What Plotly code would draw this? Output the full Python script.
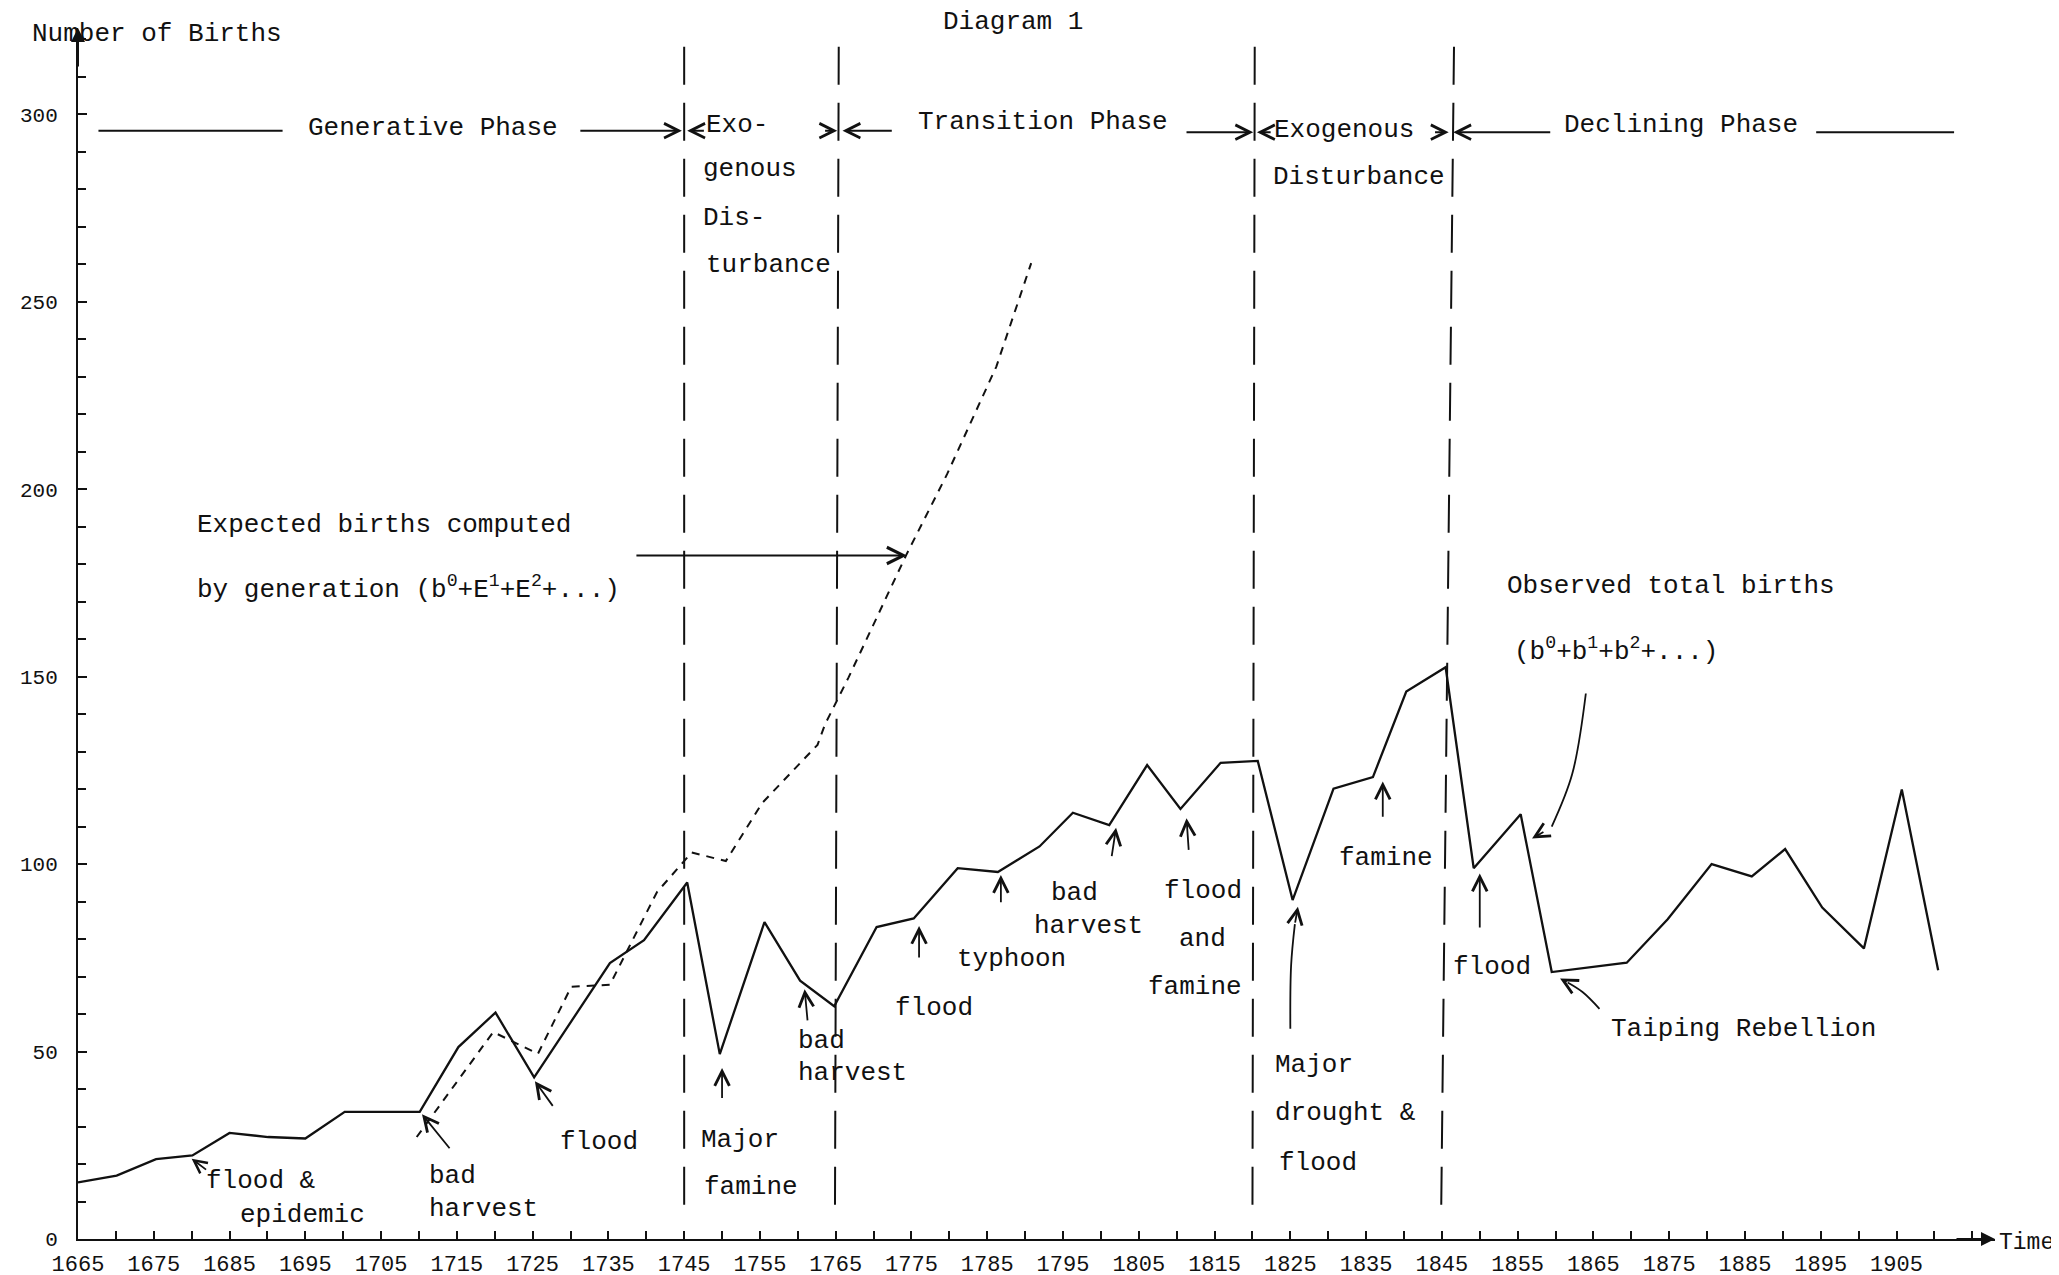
import plotly.graph_objects as go

# ---------------- data ----------------
obs_years = [1665, 1670.1, 1675.3, 1680.1, 1685.0, 1690.1, 1695.0, 1700.2, 1710.1, 1715.2,
             1720.1, 1725.2, 1735.2, 1739.7, 1745.4, 1749.7, 1755.6, 1760.3, 1764.8, 1770.4,
             1775.3, 1781.1, 1786.4, 1791.9, 1796.3, 1801.1, 1806.1, 1810.5, 1815.8, 1820.7,
             1825.3, 1830.7, 1835.9, 1840.3, 1845.5, 1849.2, 1855.4, 1859.5, 1869.4, 1874.8,
             1880.6, 1885.9, 1890.3, 1895.2, 1900.7, 1905.7, 1910.5]
obs_births = [15.1, 16.9, 21.3, 22.3, 28.3, 27.2, 26.8, 33.9, 33.9, 51.2,
              60.4, 43.1, 73.6, 79.7, 95.1, 49.3, 84.5, 68.9, 62.1, 83.2,
              85.5, 98.9, 97.9, 104.7, 113.7, 110.4, 126.4, 114.7, 127.0, 127.5,
              90.4, 120.1, 123.2, 146.0, 152.5, 98.9, 113.3, 71.2, 73.7, 85.3,
              100.0, 96.7, 104.0, 88.4, 77.5, 119.9, 71.7]

exp_years = [1709.7, 1719.8, 1725.7, 1730.1, 1735.2, 1741.4, 1746.0, 1750.5, 1755.3,
             1762.6, 1763.6, 1766.7, 1774.3, 1779.7, 1786.2, 1790.8]
exp_births = [27.2, 55.2, 49.4, 67.3, 67.8, 92.5, 103.1, 100.8, 116.3,
              131.8, 137.3, 149.8, 182.4, 204.0, 232.7, 260.3]

# phase boundaries (slightly slanted in the scan): year at top and at bottom
boundary_top_years = [1745.0, 1765.4, 1820.3, 1846.6]
boundary_bottom_years = [1745.0, 1764.9, 1820.0, 1844.9]
boundary_span = [318, 6]

x_tick_years = list(range(1665, 1906, 10))
x_tick_labels = [str(v) for v in x_tick_years]
y_tick_values = list(range(0, 301, 50))
y_tick_labels = [str(v) for v in y_tick_values]

FONT = "Liberation Mono"
INK = "#111111"
TS = 26

fig = go.Figure()

# phase boundary dashed lines
for xt, xb in zip(boundary_top_years, boundary_bottom_years):
    fig.add_trace(go.Scatter(x=[xt, xb], y=boundary_span, mode="lines",
                             line=dict(color=INK, width=2, dash="38px,18px"),
                             hoverinfo="skip", showlegend=False))

# expected births (dashed)
fig.add_trace(go.Scatter(x=exp_years, y=exp_births, mode="lines",
                         line=dict(color=INK, width=2, dash="8px,7px"),
                         name="Expected births", showlegend=False))
# observed births (solid)
fig.add_trace(go.Scatter(x=obs_years, y=obs_births, mode="lines",
                         line=dict(color=INK, width=2.3),
                         name="Observed total births", showlegend=False))

annotations = []


def text(t, x, y, anchor="left", size=TS):
    annotations.append(dict(text=t, x=x, y=y, xref="x", yref="y", showarrow=False,
                            xanchor=anchor, yanchor="middle",
                            font=dict(family=FONT, size=size, color=INK)))


def arrow(x0, y0, x1, y1, head=5, size=1.6, width=1.8):
    annotations.append(dict(text="", x=x1, y=y1, ax=x0, ay=y0, xref="x", yref="y",
                            axref="x", ayref="y", showarrow=True, arrowhead=head,
                            arrowsize=size, arrowwidth=width, arrowcolor=INK,
                            standoff=0, startstandoff=0))


def curve(xs, ys):
    fig.add_trace(go.Scatter(x=xs, y=ys, mode="lines", line=dict(color=INK, width=1.8, shape="spline"),
                             hoverinfo="skip", showlegend=False))


# ---- phase header row ----
fig.add_shape(type="line", x0=1667.7, x1=1692.0, y0=295.6, y1=295.6, xref="x", yref="y",
              line=dict(color=INK, width=1.8))
text("Generative Phase", 1711.8, 296.3, anchor="center")
arrow(1731.1, 295.6, 1744.7, 295.6)
arrow(1747.8, 295.6, 1745.4, 295.6)
text("Exo-", 1747.6, 297.2)
text("genous", 1747.2, 285.4)
text("Dis-", 1747.2, 272.4)
text("turbance", 1747.6, 259.8)
arrow(1763.4, 295.6, 1765.2, 295.6)
arrow(1772.6, 295.6, 1765.9, 295.6)
text("Transition Phase", 1792.3, 298.0, anchor="center")
arrow(1811.1, 295.2, 1820.1, 295.2)
arrow(1822.6, 295.2, 1820.6, 295.2)
text("Exogenous", 1822.6, 295.9)
text("Disturbance", 1822.4, 283.3)
arrow(1843.9, 295.2, 1845.9, 295.2)
arrow(1859.5, 295.2, 1846.5, 295.2)
text("Declining Phase", 1876.6, 297.0, anchor="center")
fig.add_shape(type="line", x0=1894.4, x1=1912.6, y0=295.2, y1=295.2, xref="x", yref="y",
              line=dict(color=INK, width=1.8))

# ---- series labels ----
text("Expected births computed", 1680.4, 190.4)
text("by generation (b<sup>0</sup>+E<sup>1</sup>+E<sup>2</sup>+...)", 1680.4, 173.6)
arrow(1738.5, 182.3, 1774.4, 182.3, size=1.8)
text("Observed total births", 1853.3, 174.3)
text("(b<sup>0</sup>+b<sup>1</sup>+b<sup>2</sup>+...)", 1854.2, 157.1)
curve([1864.0, 1862.2, 1859.5], [145.5, 124.0, 110.0])
arrow(1858.6, 108.8, 1856.9, 106.8)

# ---- events ----
text("flood &", 1681.6, 15.4)
text("epidemic", 1686.1, 6.3)
arrow(1682.1, 18.2, 1680.0, 21.4, size=1.4)

text("bad", 1711.1, 16.8)
text("harvest", 1711.1, 8.1)
arrow(1714.2, 23.8, 1710.4, 33.3)

text("flood", 1728.3, 25.9)
arrow(1727.8, 35.1, 1725.3, 42.1)

text("Major", 1747.0, 26.3)
text("famine", 1747.4, 14.0)
arrow(1750.0, 37.2, 1750.0, 45.6)

text("bad", 1759.7, 52.9)
text("harvest", 1759.7, 44.2)
arrow(1761.3, 57.9, 1760.9, 66.6)

text("flood", 1772.6, 61.7)
arrow(1776.0, 74.7, 1776.0, 83.5)

text("typhoon", 1780.7, 74.7)
arrow(1786.8, 89.4, 1786.8, 97.1)

text("bad", 1793.2, 92.2)
text("harvest", 1790.9, 83.5)
arrow(1801.4, 101.7, 1802.0, 109.7)

text("flood", 1808.0, 92.9)
text("and", 1810.0, 79.9)
text("famine", 1805.9, 67.3)
arrow(1811.6, 103.4, 1811.3, 112.2)

text("Major", 1822.7, 46.3)
text("drought &", 1822.7, 33.7)
text("flood", 1823.2, 20.3)
curve([1825.0, 1825.1, 1825.6], [56.1, 72.9, 84.0])
arrow(1825.6, 84.0, 1826.0, 88.6)

text("famine", 1831.1, 101.7)
arrow(1837.2, 112.2, 1837.2, 122.0)

text("flood", 1846.2, 72.6)
arrow(1850.0, 82.7, 1850.0, 97.5)

text("Taiping Rebellion", 1867.0, 56.1)
curve([1865.8, 1863.6, 1861.6], [61.4, 65.8, 68.4])
arrow(1861.6, 68.4, 1860.6, 69.5)

# ---- frame labels & axis arrows ----
annotations.append(dict(text="Number of Births", x=-0.025, y=0.995, xref="paper", yref="paper",
                        showarrow=False, xanchor="left", yanchor="middle",
                        font=dict(family=FONT, size=TS, color=INK)))
annotations.append(dict(text="Diagram 1", x=0.488, y=1.005, xref="paper", yref="paper",
                        showarrow=False, xanchor="center", yanchor="middle",
                        font=dict(family=FONT, size=TS, color=INK)))
annotations.append(dict(text="Time", x=1.0, y=-0.003, xref="paper", yref="paper",
                        showarrow=False, xanchor="left", yanchor="middle", xshift=2,
                        font=dict(family=FONT, size=23, color=INK)))
annotations.append(dict(text="", x=1, y=0, xref="paper", yref="paper", ax=-40, ay=0,
                        showarrow=True, arrowhead=2, arrowsize=1.4, arrowwidth=2,
                        arrowcolor=INK, standoff=0))
annotations.append(dict(text="", x=0, y=1, xref="paper", yref="paper", ax=0, ay=40,
                        showarrow=True, arrowhead=2, arrowsize=1.4, arrowwidth=2,
                        arrowcolor=INK, standoff=0))

fig.update_layout(
    width=2059, height=1275,
    margin=dict(l=70, r=72, t=20, b=44, autoexpand=False),
    paper_bgcolor="white", plot_bgcolor="white",
    showlegend=False,
    annotations=annotations,
    font=dict(family=FONT, color=INK),
)
fig.update_xaxes(
    range=[1665, 1918], showgrid=False, zeroline=False, automargin=False,
    showline=True, linecolor=INK, linewidth=2,
    tickmode="array", tickvals=x_tick_years, ticktext=x_tick_labels,
    ticks="inside", ticklen=8, tickwidth=1.5, tickcolor=INK,
    minor=dict(tick0=1665, dtick=5, ticks="inside", ticklen=8, tickwidth=1.5, tickcolor=INK),
    tickfont=dict(family=FONT, size=22, color=INK),
    ticklabelstandoff=4,
)
fig.update_yaxes(
    range=[0, 323], showgrid=False, zeroline=False, automargin=False,
    showline=True, linecolor=INK, linewidth=2,
    tickmode="array", tickvals=y_tick_values, ticktext=y_tick_labels,
    ticks="inside", ticklen=9, tickwidth=1.5, tickcolor=INK,
    minor=dict(tick0=0, dtick=10, ticks="inside", ticklen=8, tickwidth=1.5, tickcolor=INK),
    tickfont=dict(family=FONT, size=21, color=INK),
    ticklabelstandoff=14,
)

fig.write_html("out.html")
